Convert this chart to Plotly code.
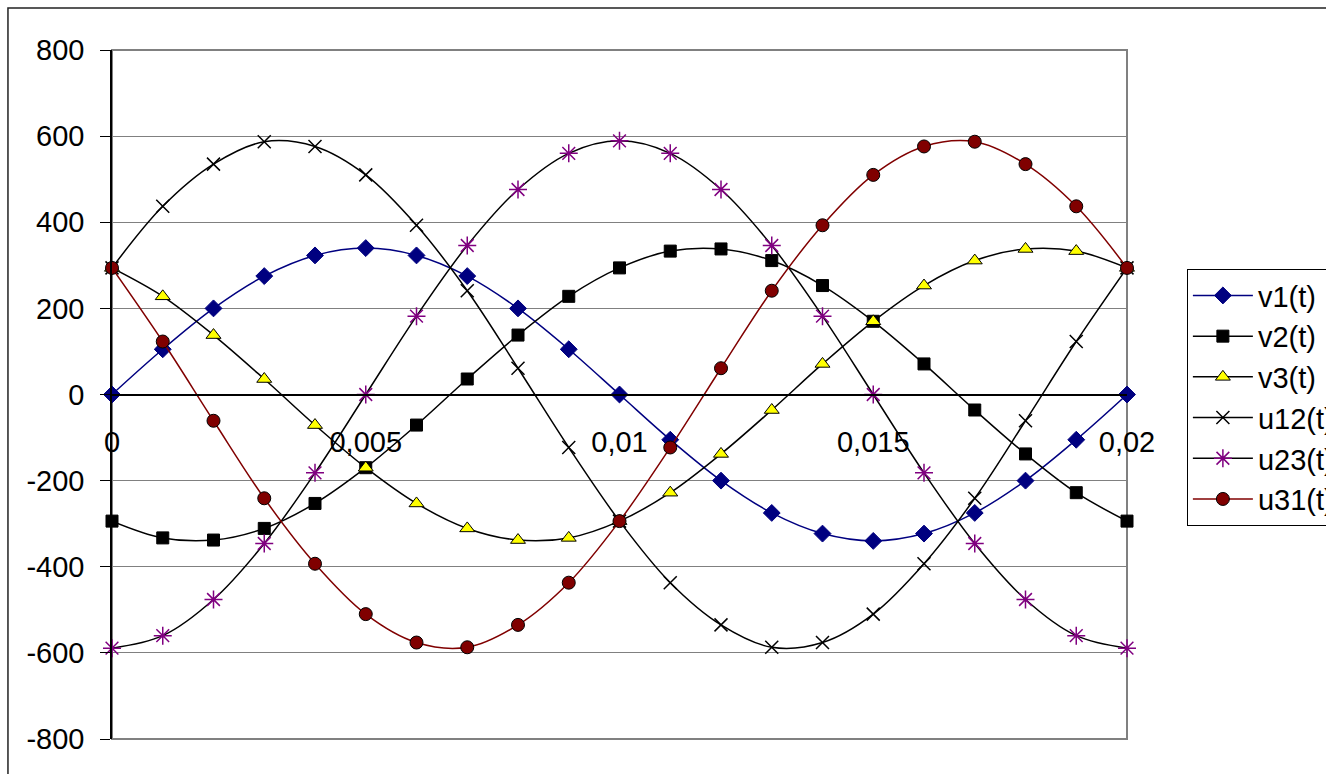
import plotly.graph_objects as go

# time samples (s)
t = [0, 0.001, 0.002, 0.003, 0.004, 0.005, 0.006, 0.007, 0.008, 0.009, 0.01,
     0.011, 0.012, 0.013, 0.014, 0.015, 0.016, 0.017, 0.018, 0.019, 0.02]

# phase voltages
v1 = [0, 105, 200, 275, 323, 340, 323, 275, 200, 105, 0,
      -105, -200, -275, -323, -340, -323, -275, -200, -105, 0]
v2 = [-294, -333, -338, -311, -253, -170, -71, 36, 138, 228, 294,
      333, 338, 311, 253, 170, 71, -36, -138, -228, -294]
v3 = [294, 228, 138, 36, -71, -170, -253, -311, -338, -333, -294,
      -228, -138, -36, 71, 170, 253, 311, 338, 333, 294]

# line voltages
u12 = [294, 437, 535, 587, 576, 510, 393, 241, 61, -123, -294,
       -437, -535, -587, -576, -510, -393, -241, -61, 123, 294]
u23 = [-589, -560, -476, -346, -182, 0, 182, 346, 476, 560, 589,
       560, 476, 346, 182, 0, -182, -346, -476, -560, -589]
u31 = [294, 123, -61, -241, -393, -510, -576, -587, -535, -437, -294,
       -123, 61, 241, 393, 510, 576, 587, 535, 437, 294]

x_ticks = [0, 0.005, 0.01, 0.015, 0.02]
x_tick_text = ["0", "0,005", "0,01", "0,015", "0,02"]
y_ticks = [-800, -600, -400, -200, 0, 200, 400, 600, 800]
y_tick_text = ["-800", "-600", "-400", "-200", "0", "200", "400", "600", "800"]

FONT = "Arial, Liberation Sans, sans-serif"

series = [
    ("v1(t)", v1, "#000080", dict(symbol="diamond", size=13, color="#000080",
                                   line=dict(color="#000080", width=1))),
    ("v2(t)", v2, "#000000", dict(symbol="square", size=12, color="#000000",
                                   line=dict(color="#000000", width=1))),
    ("v3(t)", v3, "#000000", dict(symbol="triangle-up", size=13, color="#ffff00",
                                   line=dict(color="#000000", width=1))),
    ("u12(t)", u12, "#000000", dict(symbol="x-thin-open", size=13, color="#000000",
                                     line=dict(color="#000000", width=1.5))),
    ("u23(t)", u23, "#000000", dict(symbol="asterisk-open", size=15, color="#800080",
                                     line=dict(color="#800080", width=1.5))),
    ("u31(t)", u31, "#800000", dict(symbol="circle", size=13, color="#800000",
                                     line=dict(color="#000000", width=1))),
]

fig = go.Figure()
for name, y, lc, mk in series:
    fig.add_trace(go.Scatter(
        x=t, y=y, name=name, mode="lines+markers",
        line=dict(color=lc, width=1.5, shape="spline", smoothing=1),
        marker=mk, cliponaxis=False,
    ))

fig.update_layout(
    width=1326, height=774,
    margin=dict(l=112, r=199, t=50, b=35, autoexpand=False),
    paper_bgcolor="white", plot_bgcolor="white",
    font=dict(family=FONT, size=29, color="black"),
    showlegend=True,
    legend=dict(
        x=1.059, y=0.682, xanchor="left", yanchor="top",
        bordercolor="black", borderwidth=1, bgcolor="white",
        font=dict(family=FONT, size=29, color="black"),
        itemwidth=60, tracegroupgap=0,
    ),
    xaxis=dict(
        range=[0, 0.02], anchor="free", position=0.5,
        tickvals=x_ticks, ticktext=x_tick_text,
        showgrid=False, zeroline=False,
        showline=True, linecolor="black", linewidth=1.5,
        ticks="", ticklabelstandoff=22,
        tickfont=dict(family=FONT, size=29, color="black"),
    ),
    yaxis=dict(
        range=[-800, 800], tickvals=y_ticks, ticktext=y_tick_text,
        showgrid=True, gridcolor="#808080", gridwidth=1,
        zeroline=False,
        showline=True, linecolor="black", linewidth=1.5,
        ticks="outside", ticklen=10, tickcolor="black", tickwidth=1,
        ticklabelstandoff=10,
        tickfont=dict(family=FONT, size=29, color="black"),
    ),
    shapes=[
        # plot area frame
        dict(type="rect", xref="x domain", yref="y domain",
             x0=0, x1=1, y0=0, y1=1,
             line=dict(color="#808080", width=2), layer="below"),
        # chart area frame
        dict(type="rect", xref="paper", yref="paper",
             x0=-0.1025, x1=1.3, y0=-0.2, y1=1.061,
             line=dict(color="#222222", width=1.5), layer="below"),
    ],
)

fig.write_html("out.html")
